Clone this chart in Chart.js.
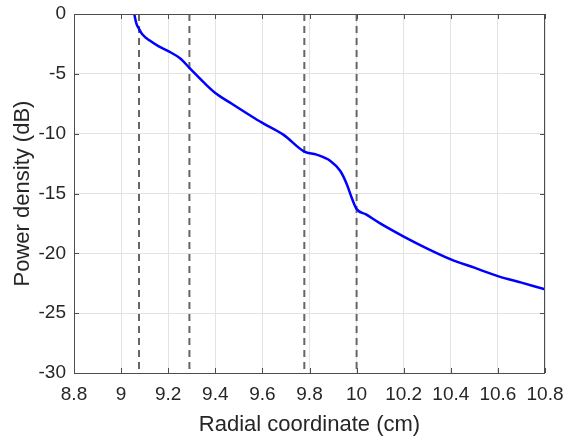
<!DOCTYPE html>
<html>
<head>
<meta charset="utf-8">
<script src="https://cdn.jsdelivr.net/npm/chart.js@4.4.0/dist/chart.umd.min.js"></script>
<style>
  html, body { margin: 0; padding: 0; background: #fff; }
  #wrap { width: 567px; height: 439px; }
</style>
</head>
<body>
<div id="wrap"><canvas id="powerChart" width="567" height="439"></canvas></div>
<script>
// Curve
const radius = [9.056, 9.06, 9.065, 9.075, 9.09, 9.12, 9.16, 9.2, 9.25, 9.29, 9.35, 9.4, 9.47, 9.55, 9.6, 9.69,
  9.778, 9.83, 9.89, 9.93, 9.958, 9.98, 10.0, 10.04, 10.1, 10.2, 10.3, 10.4, 10.5, 10.6, 10.7, 10.8];
const powerDb = [0, -0.4, -0.8, -1.2, -1.7, -2.2, -2.7, -3.1, -3.7, -4.5, -5.7, -6.6, -7.5, -8.5, -9.1, -10.1,
  -11.5, -11.75, -12.3, -13.1, -14.2, -15.4, -16.3, -16.75, -17.5, -18.6, -19.6, -20.5, -21.2, -21.9, -22.45, -23.0];

// Dashed vertical boundaries
const boundaries = [9.076, 9.29, 9.778, 10.0];

const xTicks = [8.8, 9, 9.2, 9.4, 9.6, 9.8, 10, 10.2, 10.4, 10.6, 10.8];
const yTicks = [-30, -25, -20, -15, -10, -5, 0];

const textColor = '#262626';
const family = 'Liberation Sans, Arial, sans-serif';
const tickFont = { family: family, size: 19 };
const titleFont = { family: family, size: 22 };

const curve = radius.map((r, i) => ({ x: r, y: powerDb[i] }));

const dashedSets = boundaries.map(b => ({
  data: [{ x: b, y: 0 }, { x: b, y: -30 }],
  borderColor: '#666666',
  borderWidth: 2,
  borderDash: [7, 5],
  pointRadius: 0,
  tension: 0,
  fill: false
}));

// box around the axes plus inward ticks, like the original figure
const boxPlugin = {
  id: 'box',
  afterDraw(chart) {
    const { ctx, chartArea: a, scales } = chart;
    ctx.save();
    ctx.strokeStyle = '#4d4d4d';
    ctx.lineWidth = 1;
    ctx.strokeRect(a.left + 0.5, a.top + 0.5, a.right - a.left - 1, a.bottom - a.top);
    ctx.beginPath();
    xTicks.forEach(v => {
      const px = Math.round(scales.x.getPixelForValue(v)) + 0.5;
      ctx.moveTo(px, a.bottom); ctx.lineTo(px, a.bottom - 5);
      ctx.moveTo(px, a.top); ctx.lineTo(px, a.top + 5);
    });
    yTicks.forEach(v => {
      const py = Math.round(scales.y.getPixelForValue(v)) + 0.5;
      ctx.moveTo(a.left, py); ctx.lineTo(a.left + 5, py);
      ctx.moveTo(a.right, py); ctx.lineTo(a.right - 5, py);
    });
    ctx.stroke();
    ctx.restore();
  }
};

new Chart(document.getElementById('powerChart'), {
  type: 'line',
  data: {
    datasets: [{
      data: curve,
      borderColor: '#0000ff',
      borderWidth: 2.5,
      pointRadius: 0,
      cubicInterpolationMode: 'monotone',
      fill: false
    }, ...dashedSets]
  },
  options: {
    responsive: false,
    animation: false,
    layout: { padding: { top: 14, right: 22, left: 0, bottom: 0 } },
    plugins: { legend: { display: false }, tooltip: { enabled: false } },
    scales: {
      x: {
        type: 'linear',
        min: 8.8,
        max: 10.8,
        afterBuildTicks(scale) { scale.ticks = xTicks.map(v => ({ value: v })); },
        afterFit(scale) {
          scale.height = 66;
          scale.paddingLeft = 0;
          scale.paddingRight = 0;
        },
        ticks: {
          color: textColor,
          font: tickFont,
          padding: 10,
          maxRotation: 0,
          autoSkip: false,
          callback: v => String(Math.round(v * 10) / 10)
        },
        grid: { color: '#e3e3e3', lineWidth: 1, drawTicks: false },
        border: { display: false },
        title: {
          display: true,
          text: 'Radial coordinate (cm)',
          color: textColor,
          font: titleFont,
          padding: { top: 0, bottom: 1 }
        }
      },
      y: {
        type: 'linear',
        min: -30,
        max: 0,
        afterBuildTicks(scale) { scale.ticks = yTicks.map(v => ({ value: v })); },
        afterFit(scale) {
          scale.width = 74;
          scale.paddingTop = 0;
          scale.paddingBottom = 0;
        },
        ticks: { color: textColor, font: tickFont, padding: 8 },
        grid: { color: '#e3e3e3', lineWidth: 1, drawTicks: false },
        border: { display: false },
        title: {
          display: true,
          text: 'Power density (dB)',
          color: textColor,
          font: titleFont,
          padding: { top: 10, bottom: 0 }
        }
      }
    }
  },
  plugins: [boxPlugin]
});
</script>
</body>
</html>
